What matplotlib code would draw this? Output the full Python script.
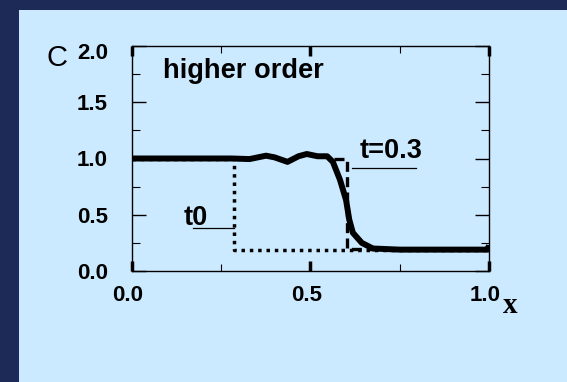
import matplotlib
matplotlib.use('Agg')
import matplotlib.pyplot as plt
import matplotlib.transforms as mtransforms
from matplotlib.patches import Rectangle
from matplotlib.ticker import MultipleLocator

# numerical solution at t=0.3 (higher order scheme)
x_num = [0.0, 0.28, 0.33, 0.376, 0.40, 0.436, 0.467, 0.49, 0.52, 0.547, 0.563,
         0.583, 0.60, 0.609, 0.619, 0.644, 0.675, 0.75, 0.99, 0.997, 1.0]
c_num = [1.0, 1.0, 0.995, 1.025, 1.01, 0.97, 1.02, 1.04, 1.02, 1.02, 0.97,
         0.81, 0.63, 0.455, 0.34, 0.25, 0.20, 0.19, 0.19, 0.19, 0.23]

# initial step (t0) and exact solution (t=0.3)
x_t0 = [0.0, 0.287, 0.287, 1.0]
c_t0 = [1.0, 1.0, 0.19, 0.19]
x_exact = [0.565, 0.602, 0.602, 1.0]
c_exact = [1.0, 1.0, 0.195, 0.195]

x_ticks = [0.0, 0.5, 1.0]
y_ticks = [0.0, 0.5, 1.0, 1.5, 2.0]

W, H = 567, 382
fig = plt.figure(figsize=(W / 100, H / 100), dpi=100)
fig.patch.set_facecolor('#1d2a57')

# light blue slide panel
panel = Rectangle((19 / W, 0), 1 - 19 / W, 1 - 10 / H, transform=fig.transFigure,
                  facecolor='#cceaff', edgecolor='none', zorder=-10)
fig.patches.append(panel)

ax = fig.add_axes([131.7 / W, (H - 271) / H, (489 - 131.7) / W, (271 - 46) / H])
ax.set_facecolor('none')
ax.set_zorder(5)

ax.plot(x_t0, c_t0, color='black', lw=2.5, linestyle=(0, (1, 1.4)),
        dash_capstyle='butt', zorder=2)
ax.plot(x_exact, c_exact, color='black', lw=2.4, linestyle=(0, (3, 1.6)),
        dash_capstyle='butt', zorder=3)
ax.plot(x_num, c_num, color='black', lw=4.3, solid_capstyle='butt',
        solid_joinstyle='round', zorder=4)

ax.set_xlim(0, 1)
ax.set_ylim(0, 2)
ax.set_xticks(x_ticks)
ax.set_xticklabels(['%.1f' % v for v in x_ticks])
ax.set_yticks(y_ticks)
ax.set_yticklabels(['%.1f' % v for v in y_ticks])
ax.xaxis.set_minor_locator(MultipleLocator(0.25))
ax.yaxis.set_minor_locator(MultipleLocator(0.25))

for sp in ax.spines.values():
    sp.set_linewidth(1.0)

ax.tick_params(axis='y', which='major', direction='in', length=10, width=1,
               left=True, right=True, pad=17, labelsize=16)
ax.tick_params(axis='y', which='minor', direction='in', length=6, width=0.8,
               left=True, right=True)
ax.tick_params(axis='x', which='major', direction='in', length=7, width=2.5,
               top=True, bottom=True, pad=10, labelsize=16)
ax.tick_params(axis='x', which='minor', direction='in', length=5, width=0.8,
               top=True, bottom=True)

for lab in ax.get_xticklabels() + ax.get_yticklabels():
    lab.set_fontfamily('Liberation Sans')
    lab.set_fontweight('bold')
shift = mtransforms.ScaledTranslation(-4 / 100, 0, fig.dpi_scale_trans)
for lab in ax.get_xticklabels():
    lab.set_transform(lab.get_transform() + shift)
# the top label sits a little lower than its tick
top = ax.get_yticklabels()[-1]
top.set_transform(top.get_transform() +
                  mtransforms.ScaledTranslation(0, -5 / 100, fig.dpi_scale_trans))

# axis names
fig.text(57 / W, 1 - 66 / H, 'C', fontsize=21, family='Liberation Sans',
         ha='center', va='baseline')
fig.text(503 / W, 1 - 313 / H, 'x', fontsize=21, family='Liberation Serif',
         fontweight='bold', ha='left', va='baseline')

# annotations
ax.text(0.087, 1.72, 'higher order', fontsize=19.6, family='Liberation Sans',
        fontweight='bold', ha='left', va='baseline')
ax.text(0.146, 0.41, 't0', fontsize=19.5, family='Liberation Sans',
        fontweight='bold', ha='left', va='baseline')
ax.plot([0.171, 0.285], [0.38, 0.38], color='black', lw=0.9, zorder=5)
ax.text(0.637, 1.0, 't=0.3', fontsize=19.5, family='Liberation Sans',
        fontweight='bold', ha='left', va='baseline')
ax.plot([0.617, 0.797], [0.915, 0.915], color='black', lw=0.9, zorder=5)

fig.savefig('out.png', dpi=100, facecolor=fig.get_facecolor())
